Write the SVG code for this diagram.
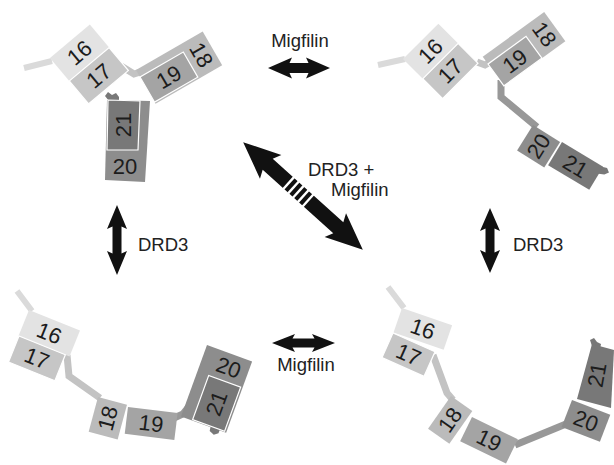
<svg xmlns="http://www.w3.org/2000/svg" width="614" height="465" viewBox="0 0 614 465">
  <style>
    .d16 { fill: #e3e3e3; }
    .d17 { fill: #c6c6c6; }
    .d18 { fill: #bbbbbb; }
    .d19 { fill: #a4a4a4; }
    .d20 { fill: #8d8d8d; }
    .d21 { fill: #787878; }
    .sep { stroke: #ffffff; stroke-width: 1.2; }
    .num { font-family: "Liberation Sans", Arial, sans-serif; font-size: 22px; fill: #1c1c1c; text-anchor: middle; dominant-baseline: central; }
    .lbl { font-family: "Liberation Sans", Arial, sans-serif; font-size: 18.5px; fill: #222222; }
    .tail { fill: none; stroke: #dadada; stroke-width: 6; stroke-linejoin: round; }
    .lk17 { fill: none; stroke: #c3c3c3; stroke-width: 7; stroke-linejoin: miter; }
    .lk19 { fill: none; stroke: #989898; stroke-width: 7; stroke-linejoin: miter; }
    .arrow { fill: #111111; }
    .stripe { fill: #ffffff; }
  </style>

  <!-- ===== upper left conformation ===== -->
  <g id="tl-linkers">
    <polyline class="tail" points="24,68 52,61"/>
    <polyline class="lk17" points="121,66 134,74 150,69"/>
  </g>
  <g id="tl-d16" transform="translate(50,58) rotate(-40)">
    <rect class="d16" x="0" y="0" width="52" height="30"/>
    <text class="num" x="26" y="15">16</text>
  </g>
  <g id="tl-d17" transform="translate(50,58) rotate(-40)">
    <rect class="d17 sep" x="0" y="30" width="52" height="30"/>
    <text class="num" x="26" y="45">17</text>
  </g>
  <g id="tl-d18" transform="translate(140,77) rotate(-30)">
    <rect class="d18" x="0" y="-8" width="77" height="39"/>
    <text class="num" x="64" y="11.5" transform="rotate(90 64 11.5)">18</text>
  </g>
  <g id="tl-d19" transform="translate(140,77) rotate(-30)">
    <rect class="d19 sep" x="0" y="0" width="50" height="29"/>
    <text class="num" x="25" y="14.5">19</text>
  </g>
  <g id="tl-d20">
    <polygon class="d20" points="107,100 150,101 145,182 105,180"/>
    <text class="num" x="125" y="166">20</text>
  </g>
  <g id="tl-d21">
    <path class="d21" d="M109,101 L105,96 L108,92 L112,95 L116,93 L119,97 L119,100 Z"/>
    <polygon class="d21 sep" points="108,100 140,101 138,150 107,150"/>
    <text class="num" x="123" y="125" transform="rotate(-90 123 125)">21</text>
  </g>

  <!-- ===== upper right conformation ===== -->
  <g id="tr-linkers">
    <polyline class="tail" points="378,65 405,59"/>
    <polyline class="lk17" points="477,62 485,65 492,61"/>
    <polyline class="lk19" points="501,80 501,97 537,127"/>
  </g>
  <g id="tr-d16" transform="translate(403,59) rotate(-45)">
    <rect class="d16" x="0" y="0" width="50" height="28"/>
    <text class="num" x="25" y="14">16</text>
  </g>
  <g id="tr-d17" transform="translate(403,59) rotate(-45)">
    <rect class="d17 sep" x="0" y="28" width="50" height="28"/>
    <text class="num" x="25" y="42">17</text>
  </g>
  <g id="tr-d18" transform="translate(488,64) rotate(-36)">
    <rect class="d18" x="0" y="-9" width="76" height="36"/>
    <text class="num" x="63" y="9" transform="rotate(90 63 9)">18</text>
  </g>
  <g id="tr-d19" transform="translate(488,64) rotate(-36)">
    <rect class="d19 sep" x="0" y="0" width="47" height="27"/>
    <text class="num" x="23.5" y="13.5">19</text>
  </g>
  <g id="tr-d20" transform="translate(533,125) rotate(32)">
    <rect class="d20" x="0" y="0" width="32" height="30"/>
    <text class="num" x="16" y="15" transform="rotate(-90 16 15)">20</text>
  </g>
  <g id="tr-d21" transform="translate(562,142) rotate(31)">
    <path class="d21" d="M46,1 L52,-1 L56,2 L53,6 L46,9 Z"/>
    <rect class="d21" x="0" y="0" width="48" height="27"/>
    <text class="num" x="24" y="14">21</text>
  </g>

  <!-- ===== lower left conformation ===== -->
  <g id="bl-linkers">
    <polyline class="tail" points="17,291 32,311"/>
    <polyline class="lk17" points="67,355 69,376 100,398"/>
    <polyline class="lk19" points="174,418 183,414 191,404"/>
  </g>
  <g id="bl-d16" transform="translate(29,310) rotate(22)">
    <rect class="d16" x="0" y="0" width="55" height="28"/>
    <text class="num" x="27.5" y="14">16</text>
  </g>
  <g id="bl-d17" transform="translate(19,336) rotate(22)">
    <rect class="d17 sep" x="0" y="0" width="50" height="28"/>
    <text class="num" x="25" y="14">17</text>
  </g>
  <g id="bl-d18" transform="translate(98,397) rotate(15)">
    <rect class="d18" x="0" y="0" width="30" height="36"/>
    <text class="num" x="15" y="18" transform="rotate(-90 15 18)">18</text>
  </g>
  <g id="bl-d19" transform="translate(128,407) rotate(7)">
    <rect class="d19" x="0" y="0" width="50" height="27"/>
    <text class="num" x="25" y="13.5">19</text>
  </g>
  <g id="bl-d20" transform="translate(207,345) rotate(20)">
    <rect class="d20" x="0" y="0" width="48" height="76"/>
    <text class="num" x="28" y="14">20</text>
  </g>
  <g id="bl-d21" transform="translate(207,345) rotate(20)">
    <path class="d21" d="M31,74 L32,80 L37,82 L41,79 L41,74 Z"/>
    <rect class="d21 sep" x="12" y="28" width="34" height="47"/>
    <text class="num" x="29" y="51.5" transform="rotate(-90 29 51.5)">21</text>
  </g>

  <!-- ===== lower right conformation ===== -->
  <g id="br-linkers">
    <polyline class="tail" points="388,287 404,308"/>
    <polyline class="lk17" points="433,355 447,393 453,400"/>
    <polyline class="lk19" points="515,445 566,424"/>
  </g>
  <g id="br-d16" transform="translate(402,308) rotate(19)">
    <rect class="d16" x="0" y="0" width="53" height="26"/>
    <text class="num" x="26.5" y="13">16</text>
  </g>
  <g id="br-d17" transform="translate(393,333) rotate(24)">
    <rect class="d17 sep" x="0" y="0" width="46" height="27"/>
    <text class="num" x="23" y="13.5">17</text>
  </g>
  <g id="br-d18" transform="translate(451,396) rotate(35)">
    <rect class="d18" x="0" y="0" width="26" height="40"/>
    <text class="num" x="13" y="20" transform="rotate(-90 13 20)">18</text>
  </g>
  <g id="br-d19" transform="translate(472,417) rotate(26)">
    <rect class="d19" x="0" y="0" width="51" height="27"/>
    <text class="num" x="25.5" y="13.5">19</text>
  </g>
  <g id="br-d20" transform="translate(572,400) rotate(21)">
    <rect class="d20" x="0" y="0" width="41" height="29"/>
    <text class="num" x="20.5" y="14.5">20</text>
  </g>
  <g id="br-d21">
    <path class="d21" d="M592,346 L590,340 L594,338 L597,342 L601,344 L600,349 Z"/>
    <polygon class="d21" points="592,344 614,350 611,408 577,399"/>
    <text class="num" x="597" y="375" transform="rotate(-80 597 375)">21</text>
  </g>

  <!-- ===== transition arrows ===== -->
  <g id="arrows">
    <!-- top: Migfilin -->
    <path class="arrow" d="M268,68 L292,57.5 L289.5,63 L308.5,63 L306,57.5 L330,68 L306,78.5 L308.5,73 L289.5,73 L292,78.5 Z"/>
    <!-- bottom: Migfilin -->
    <path class="arrow" d="M272,343 L295,334 L292.5,338.5 L314.5,338.5 L312,334 L335,343 L312,352 L314.5,347.5 L292.5,347.5 L295,352 Z"/>
    <!-- left: DRD3 -->
    <path class="arrow" d="M117,205 L127,229 L121.5,226.5 L121.5,253.5 L127,251 L117,275 L107,251 L112.5,253.5 L112.5,226.5 L107,229 Z"/>
    <!-- right: DRD3 -->
    <path class="arrow" d="M490,208 L500,231 L494.5,228.5 L494.5,252.5 L500,250 L490,273 L480,250 L485.5,252.5 L485.5,228.5 L480,231 Z"/>
    <!-- diagonal: DRD3 + Migfilin, striped shaft -->
    <g transform="translate(303,196) rotate(42)">
      <path class="arrow" d="M-80.5,0 L-43.5,-16 L-47.5,-7.5 L47.5,-7.5 L43.5,-16 L80.5,0 L43.5,16 L47.5,7.5 L-47.5,7.5 L-43.5,16 Z"/>
      <rect class="stripe" x="-20.5" y="-8" width="2.4" height="16"/>
      <rect class="stripe" x="-14" y="-8" width="2.4" height="16"/>
      <rect class="stripe" x="-7.5" y="-8" width="2.4" height="16"/>
      <rect class="stripe" x="-1" y="-8" width="2.4" height="16"/>
      <rect class="stripe" x="5.5" y="-8" width="2.4" height="16"/>
    </g>
  </g>

  <!-- ===== labels ===== -->
  <g id="labels">
    <text class="lbl" x="300" y="47" text-anchor="middle">Migfilin</text>
    <text class="lbl" x="306" y="371" text-anchor="middle">Migfilin</text>
    <text class="lbl" x="138" y="251">DRD3</text>
    <text class="lbl" x="513" y="251">DRD3</text>
    <text class="lbl" x="308" y="176">DRD3 +</text>
    <text class="lbl" x="331" y="196">Migfilin</text>
  </g>
</svg>
